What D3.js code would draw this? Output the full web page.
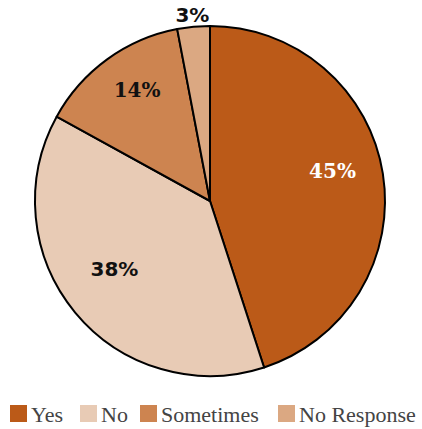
<!DOCTYPE html>
<html>
<head>
<meta charset="utf-8">
<script src="https://cdn.jsdelivr.net/npm/d3@7"></script>
<style>
  body { margin: 0; background: #fff; }
</style>
</head>
<body>
<svg id="chart" width="422" height="429"></svg>
<script>
// chart data
const categories = ['Yes', 'No', 'Sometimes', 'No Response'];
const shares = [45, 38, 14, 3];
const colours = ['#bb5a18', '#e8cbb5', '#cd8450', '#dba882'];
const labelColours = ['#ffffff', '#111111', '#111111', '#111111'];
// the reference mixes a slab face and a plain sans for the slice labels
const labelFonts = ['DejaVu Serif, serif', 'DejaVu Sans, sans-serif', 'DejaVu Serif, serif', 'DejaVu Sans, sans-serif'];

const svg = d3.select('#chart');
const cx = 210, cy = 201, radius = 175;

const pie = d3.pie().sort(null).value(d => d.value);
const arcs = pie(categories.map((c, i) => ({name: c, value: shares[i], i})));

const arc = d3.arc().innerRadius(0).outerRadius(radius);
const labelArc = d3.arc().innerRadius(124).outerRadius(124);
const outerLabelArc = d3.arc().innerRadius(radius + 12).outerRadius(radius + 12);

const g = svg.append('g').attr('transform', `translate(${cx},${cy})`);

g.selectAll('.slice')
    .data(arcs)
    .enter().append('path')
    .attr('class', 'slice')
    .attr('d', arc)
    .attr('fill', d => colours[d.data.i])
    .attr('stroke', '#000')
    .attr('stroke-width', 2)
    .attr('stroke-linejoin', 'round');

// labels, small slices go outside
g.selectAll('.label')
    .data(arcs)
    .enter().append('text')
    .attr('class', 'label')
    .attr('transform', d => {
        const small = d.data.value < 5;
        const p = small ? outerLabelArc.centroid(d) : labelArc.centroid(d);
        return `translate(${p[0]},${small ? p[1] : p[1] - 11})`;
    })
    .attr('text-anchor', 'middle')
    .attr('dy', '0.35em')
    .attr('font-family', d => labelFonts[d.data.i])
    .attr('font-weight', 'bold')
    .attr('font-size', 20)
    .attr('fill', d => labelColours[d.data.i])
    .text(d => d.data.value + '%');

// legend
const legendX = [10, 80, 140, 278];
const legend = svg.selectAll('.legend')
    .data(categories)
    .enter().append('g')
    .attr('class', 'legend')
    .attr('transform', (d, i) => `translate(${legendX[i]},405)`);

legend.append('rect')
    .attr('width', 17)
    .attr('height', 17)
    .attr('fill', (d, i) => colours[i]);

legend.append('text')
    .attr('x', 21)
    .attr('y', 17)
    .attr('font-family', 'Liberation Serif, serif')
    .attr('font-size', 22)
    .attr('fill', '#444')
    .text(d => d);
</script>
</body>
</html>
